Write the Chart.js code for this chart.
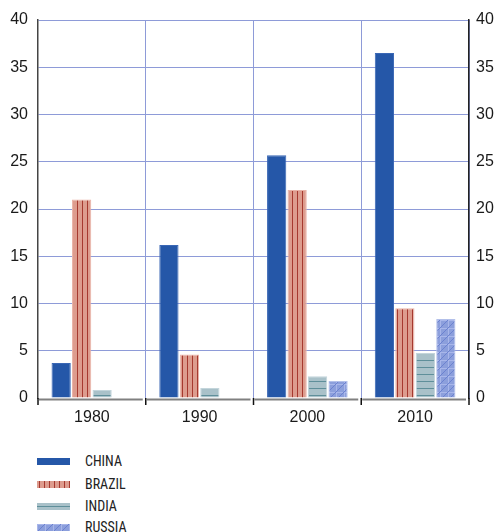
<!DOCTYPE html>
<html><head><meta charset="utf-8">
<script src="https://cdn.jsdelivr.net/npm/chart.js@4.4.1/dist/chart.umd.min.js"></script>
<style>
html,body{margin:0;padding:0;background:#fff;}
#wrap{position:relative;width:497px;height:440px;}
#legend{position:absolute;left:0;top:448px;width:497px;}
.li{position:absolute;left:37px;height:20px;}
.li canvas{position:absolute;left:0;top:7px;}
.li span{position:absolute;left:48px;top:0;font-family:"Liberation Sans Narrow","Roboto Condensed","DejaVu Sans Condensed",sans-serif;font-size:14px;color:#222;white-space:nowrap;line-height:20px;}
</style></head>
<body>
<div id="wrap"><canvas id="c" width="497" height="440"></canvas></div>
<div id="legend"></div>
<script>
const categories = ["1980","1990","2000","2010"];
const seriesNames = ["CHINA","BRAZIL","INDIA","RUSSIA"];
const china  = [3.7, 16.2, 25.7, 36.5];
const brazil = [21.0, 4.6, 22.0, 9.5];
const india  = [0.85, 1.05, 2.3, 4.75];
const russia = [null, null, 1.8, 8.35];
const yTicks = [0,5,10,15,20,25,30,35,40];

function makePattern(kind){
  const c=document.createElement('canvas');
  const s = kind==='russia'?8:(kind==='brazil'?5:7);
  c.width=s;c.height=s;
  const g=c.getContext('2d');
  if(kind==='brazil'){
    g.fillStyle='#dd9c8e';g.fillRect(0,0,s,s);
    g.fillStyle='#a6392f';g.fillRect(2,0,1,s);
  } else if(kind==='india'){
    g.fillStyle='#a9c1c9';g.fillRect(0,0,s,s);
    g.fillStyle='#5f8f9a';g.fillRect(0,3,s,1);
  } else if(kind==='russia'){
    g.fillStyle='#8c9fdc';g.fillRect(0,0,s,s);
    g.fillStyle='#a8b6ea';g.fillRect(0,0,s,1);g.fillRect(0,0,1,s);
    g.strokeStyle='#6c82d0';g.lineWidth=1;
    g.beginPath();g.moveTo(0,s);g.lineTo(s,0);g.stroke();
  }
  return document.createElement('canvas').getContext('2d').createPattern(c,'repeat');
}
const fills = ['#2557a8', makePattern('brazil'), makePattern('india'), makePattern('russia')];
const borders = ['#3a67b5','#eab3a8','#c3d5db','#b3c0ea'];
const values = [china, brazil, india, russia];

const gridColor = '#8e9bd8';
const bracketPlugin = {
  id:'brackets',
  afterDraw(chart){
    const {ctx, chartArea:a} = chart;
    const w=(a.right-a.left)/categories.length;
    ctx.save();
    for(let i=0;i<categories.length;i++){
      const x0=a.left+i*w, x1=x0+w;
      ctx.strokeStyle='#808080';ctx.lineWidth=2;
      ctx.beginPath();ctx.moveTo(x0+1,a.bottom+1.5);ctx.lineTo(x1-3,a.bottom+1.5);ctx.stroke();
      ctx.strokeStyle='#111';ctx.lineWidth=1.5;
      ctx.beginPath();ctx.moveTo(x0,a.bottom);ctx.lineTo(x0,a.bottom+7);ctx.stroke();
    }
    ctx.beginPath();ctx.moveTo(a.right,a.bottom);ctx.lineTo(a.right,a.bottom+7);ctx.stroke();
    ctx.restore();
  }
};

const tickFont = {family:'"Liberation Sans",Arial,sans-serif',size:16};
new Chart(document.getElementById('c'),{
  type:'bar',
  data:{labels:categories,datasets:seriesNames.map((n,i)=>({
    label:n,data:values[i],backgroundColor:fills[i],borderColor:borders[i],borderWidth:1,
    categoryPercentage:0.76,barPercentage:0.94,yAxisID:'y'
  }))},
  options:{
    responsive:false,animation:false,
    layout:{padding:{top:20,left:0,right:0,bottom:0}},
    plugins:{legend:{display:false},tooltip:{enabled:false}},
    scales:{
      x:{
        grid:{offset:true,drawTicks:false,color:(c)=>(c.index===0||c.index===categories.length)?'rgba(0,0,0,0)':gridColor,lineWidth:1},
        border:{display:false},
        ticks:{padding:10,color:'#1a1a1a',font:tickFont},
        afterFit(s){s.height=42;}
      },
      y:{
        position:'left',min:0,max:40,
        afterBuildTicks(s){s.ticks=yTicks.map(v=>({value:v}));},
        grid:{drawTicks:false,color:(c)=>c.tick.value===0?'rgba(0,0,0,0)':gridColor,lineWidth:1},
        border:{display:true,color:'#444',width:1.5},
        ticks:{padding:10,color:'#1a1a1a',font:tickFont},
        afterFit(s){s.width=38;}
      },
      y2:{
        position:'right',min:0,max:40,
        afterBuildTicks(s){s.ticks=yTicks.map(v=>({value:v}));},
        grid:{display:false,drawTicks:false},
        border:{display:true,color:'#222',width:1.5},
        ticks:{padding:7,color:'#1a1a1a',font:tickFont},
        afterFit(s){s.width=28;}
      }
    }
  },
  plugins:[bracketPlugin]
});

// legend
const leg=document.getElementById('legend');
const legTops=[3,26,48,69];
seriesNames.forEach((n,i)=>{
  const d=document.createElement('div');d.className='li';d.style.top=legTops[i]+'px';
  const cv=document.createElement('canvas');cv.width=33;cv.height=7;
  const g=cv.getContext('2d');g.fillStyle=fills[i];g.fillRect(0,0,33,7);
  d.appendChild(cv);
  const sp=document.createElement('span');sp.textContent=n;d.appendChild(sp);
  leg.appendChild(d);
});
</script>
</body></html>
